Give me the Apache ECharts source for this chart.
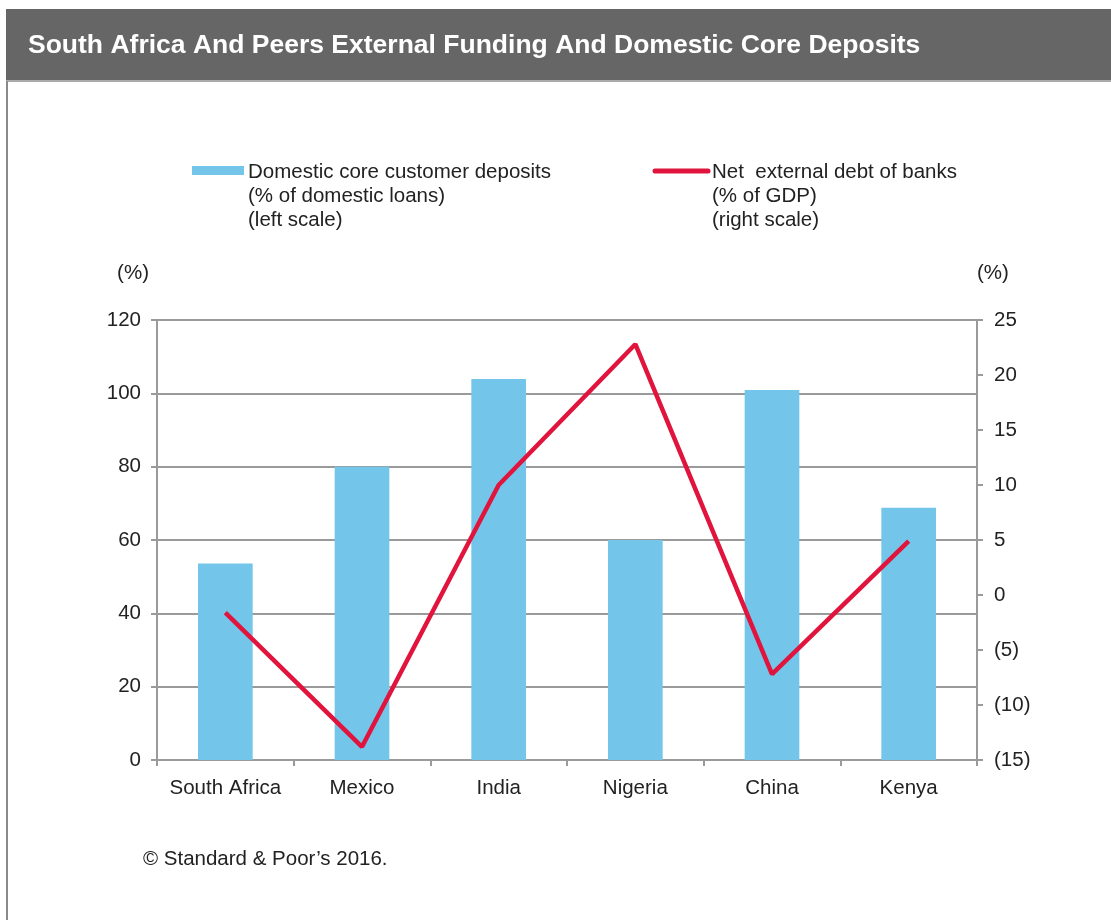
<!DOCTYPE html>
<html>
<head>
<meta charset="utf-8">
<script src="https://cdn.jsdelivr.net/npm/echarts@6/dist/echarts.min.js"></script>
<style>
html,body{margin:0;padding:0;background:#fff;}
#chart{width:1111px;height:920px;}
</style>
</head>
<body>
<div id="chart"></div>
<script>
const categories = ['South Africa', 'Mexico', 'India', 'Nigeria', 'China', 'Kenya'];
const depositsValues = [53.6, 80, 103.9, 60, 100.9, 68.8];
const externalDebtValues = [-1.6, -13.8, 10, 22.8, -7.2, 4.9];
const leftTicks = { min: 0, max: 120, interval: 20 };
const rightTicks = { min: -15, max: 25, interval: 5 };
const titleText = 'South Africa And Peers External Funding And Domestic Core Deposits';
const legendBar = ['Domestic core customer deposits', '(% of domestic loans)', '(left scale)'];
const legendLine = ['Net  external debt of banks', '(% of GDP)', '(right scale)'];
const sourceText = '\u00A9 Standard & Poor\u2019s 2016.';

const FONT = 'Liberation Sans, Arial, sans-serif';
const BAR = '#73C6EA';
const LINE = '#E0143C';
const AXIS = '#9a9a9a';
const TXT = '#222';
const FS = 20.5;

const chart = echarts.init(document.getElementById('chart'));
chart.setOption({
  animation: false,
  backgroundColor: '#fff',
  grid: { left: 157, right: 134, top: 320, bottom: 160, containLabel: false },
  xAxis: {
    type: 'category',
    data: categories,
    boundaryGap: true,
    axisLine: { lineStyle: { color: AXIS, width: 2 } },
    axisTick: { show: true, interval: 0, length: 6, lineStyle: { color: AXIS, width: 2 } },
    axisLabel: { interval: 0, color: TXT, fontFamily: FONT, fontSize: FS, margin: 18 }
  },
  yAxis: [
    {
      type: 'value', position: 'left',
      min: leftTicks.min, max: leftTicks.max, interval: leftTicks.interval,
      name: '(%)', nameLocation: 'end', nameGap: 36,
      nameTextStyle: { color: TXT, fontFamily: FONT, fontSize: FS, align: 'right', padding: [0, 8, 0, 0] },
      axisLine: { show: true, lineStyle: { color: AXIS, width: 2 } },
      axisTick: { show: true, length: 6, lineStyle: { color: AXIS, width: 2 } },
      axisLabel: { color: TXT, fontFamily: FONT, fontSize: FS, margin: 16 },
      splitLine: { show: true, lineStyle: { color: AXIS, width: 2 } }
    },
    {
      type: 'value', position: 'right',
      min: rightTicks.min, max: rightTicks.max, interval: rightTicks.interval,
      name: '(%)', nameLocation: 'end', nameGap: 36,
      nameTextStyle: { color: TXT, fontFamily: FONT, fontSize: FS, align: 'left', padding: [0, 0, 0, 0] },
      axisLine: { show: true, lineStyle: { color: AXIS, width: 2 } },
      axisTick: { show: true, length: 6, lineStyle: { color: AXIS, width: 2 } },
      axisLabel: {
        color: TXT, fontFamily: FONT, fontSize: FS, margin: 17,
        formatter: v => v < 0 ? '(' + Math.abs(v) + ')' : String(v)
      },
      splitLine: { show: false }
    }
  ],
  series: [
    {
      type: 'bar', yAxisIndex: 0, data: depositsValues,
      barWidth: '40%', itemStyle: { color: BAR }
    },
    {
      type: 'line', yAxisIndex: 1, data: externalDebtValues,
      symbol: 'none', lineStyle: { color: LINE, width: 4.5 }, z: 5
    }
  ],
  graphic: [
    { type: 'rect', left: 6, top: 9, shape: { width: 1105, height: 72 }, style: { fill: '#666666' }, silent: true },
    { type: 'line', shape: { x1: 6, y1: 81, x2: 1111, y2: 81 }, style: { stroke: '#aaaaaa', lineWidth: 2 }, silent: true },
    { type: 'line', shape: { x1: 7, y1: 81, x2: 7, y2: 920 }, style: { stroke: '#8a8a8a', lineWidth: 2 }, silent: true },
    { type: 'text', left: 28, top: 32, style: { text: titleText, fill: '#ffffff', font: 'bold 26.5px ' + FONT } },
    { type: 'rect', left: 192, top: 166, shape: { width: 52, height: 9 }, style: { fill: BAR } },
    { type: 'text', left: 248, top: 160, style: { text: legendBar.join('\n'), fill: TXT, font: FS + 'px ' + FONT, lineHeight: 24 } },
    { type: 'line', shape: { x1: 655, y1: 171, x2: 708, y2: 171 }, style: { stroke: LINE, lineWidth: 5, lineCap: 'round' } },
    { type: 'text', left: 712, top: 160, style: { text: legendLine.join('\n'), fill: TXT, font: FS + 'px ' + FONT, lineHeight: 24 } },
    { type: 'text', left: 143, top: 849, style: { text: sourceText, fill: TXT, font: FS + 'px ' + FONT } }
  ]
});
</script>
</body>
</html>
